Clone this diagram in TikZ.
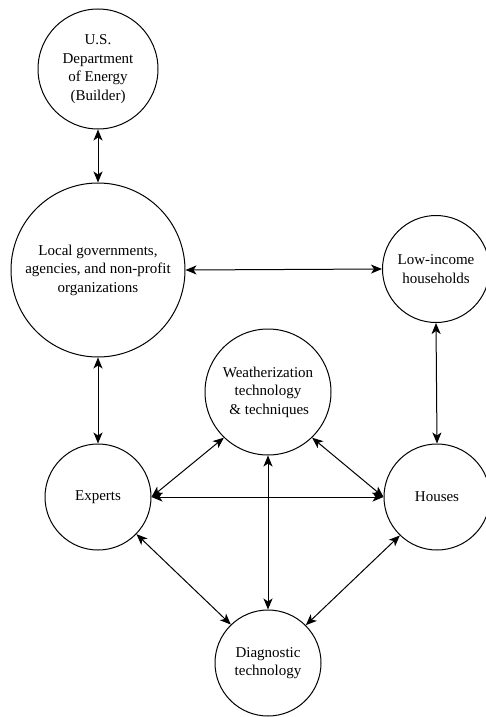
\documentclass[tikz,border=0pt]{standalone}
\usepackage{fontspec}
\setmainfont{Liberation Serif}
\usetikzlibrary{arrows.meta}
\begin{document}
\begin{tikzpicture}[x=1pt,y=-1pt,
  ent/.style={circle,draw,line width=1pt,inner sep=0pt,align=center,
    font=\fontsize{15}{18.5}\selectfont},
  link/.style={line width=1pt,{Stealth[length=11pt,width=9pt,inset=3pt]}-{Stealth[length=11pt,width=9pt,inset=3pt]}}]
\useasboundingbox (0,0) rectangle (485,717);
\node[ent,minimum size=120pt] (doe) at (98,69) {U.S.\\Department\\of Energy\\(Builder)};
\node[ent,minimum size=174pt] (local) at (98,270) {Local governments,\\agencies, and non-profit\\organizations};
\node[ent,minimum size=107pt] (low) at (436,269) {Low-income\\households};
\node[ent,minimum size=126pt] (weather) at (268,392) {Weatherization\\technology\\\,\& techniques};
\node[ent,minimum size=106pt] (experts) at (98,497) {Experts};
\node[ent,minimum size=106pt] (houses) at (437,497) {Houses};
\node[ent,minimum size=106pt] (diag) at (268,663) {Diagnostic\\technology};
\draw[link] (doe.south) -- (local.north);
\draw[link] (local.east) -- (low.west);
\draw[link] (local.south) -- (experts.north);
\draw[link] (low.south) -- (houses.north);
\draw[link] (weather.226) -- (experts.east);
\draw[link] (weather.314) -- (houses.west);
\draw[link] (experts.east) -- (houses.west);
\draw[link] (weather.south) -- (diag.north);
\draw[link] (experts.316) -- (diag.134);
\draw[link] (houses.226) -- (diag.45);
\end{tikzpicture}
\end{document}
